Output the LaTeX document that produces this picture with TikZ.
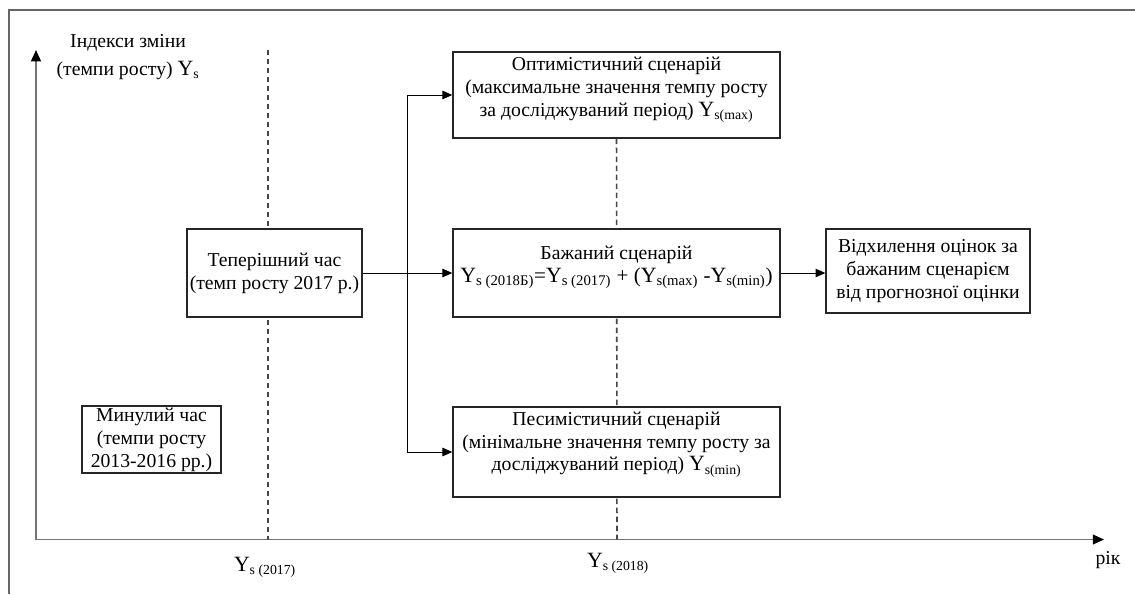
\documentclass[tikz,border=0pt]{standalone}
\usepackage{fontspec}
\setmainfont{Liberation Serif}
\usetikzlibrary{arrows.meta}

\newcommand{\Ys}[1]{{\fontsize{15.5}{16}\selectfont Y}\textsubscript{#1}}

\tikzset{
  box/.style={draw=black!85, line width=0.9pt, fill=white, align=center, inner sep=0pt,
              font=\fontsize{14}{16.3}\selectfont},
  txt/.style={align=center, inner sep=0pt, font=\fontsize{14}{16.3}\selectfont},
  arr/.style={-{Triangle[length=7pt,width=6pt]}, line width=0.7pt},
  axis/.style={{Triangle[length=8pt,width=7pt,color=black]}-{Triangle[length=8pt,width=7pt,color=black]},
               draw=black!55, line width=1.1pt},
  guide/.style={draw=black!72, line width=1.1pt, dash pattern=on 3.8pt off 2.6pt}
}

\begin{document}
\begin{tikzpicture}[x=0.025cm, y=-0.025cm]
            \useasboundingbox (0,0) rectangle (1135,594);
            \draw[black!60, line width=1pt] (9,594) -- (9,10) -- (1135,10);
            \coordinate (O) at (36,539.5);
            \coordinate (ytop) at (36,50);
            \coordinate (xend) at (1104,539.5);
            \coordinate (d1top) at (268,50);
            \coordinate (d1bot) at (268,539.5);
            \coordinate (d2bot) at (617,539.5);
            % axes and guides
            \draw[axis] (ytop) -- (O) -- (xend);
            \draw[guide] (d1top) -- (d1bot);
            \node[box, minimum width=232.6pt, minimum height=61.2pt] (opt) at (616.5,95)
                {Оптимістичний сценарій\\(максимальне значення темпу росту\\за досліджуваний період) \Ys{s(max)}\\[-9pt]\strut};
            \draw[guide] (opt.south) -- (d2bot);
            % boxes
            \node[box, minimum width=124.5pt, minimum height=62.6pt] (present) at (274.5,273)
                {Теперішний час\\(темп росту 2017 р.)};
            \node[box, minimum width=232.6pt, minimum height=62.6pt] (desired) at (616.5,273)
                {Бажаний сценарій\\{\fontsize{15}{16}\selectfont \Ys{s (2018Б)}=\Ys{s (2017)} + (\Ys{s(max)} -\Ys{s(min)})}\\[-9pt]\strut};
            \node[box, minimum width=145.1pt, minimum height=59.8pt] (dev) at (928,271)
                {Відхилення оцінок за\\бажаним сценарієм\\від прогнозної оцінки};
            \node[box, minimum width=98.9pt, minimum height=47.7pt] (past) at (151.5,439.5)
                {Минулий час\\(темпи росту\\2013-2016 рр.)};
            \node[box, minimum width=232.6pt, minimum height=64pt] (pess) at (616.5,452)
                {Песимістичний сценарій\\(мінімальне значення темпу росту за\\досліджуваний період) \Ys{s(min)}\\[-6pt]\strut};
            % connectors
            \path (present.east) -- (desired.west) coordinate[pos=0.5] (br);
            \draw[arr] (present) -- (desired);
            \draw[arr] (br) |- (opt.west);
            \draw[arr] (br) |- (pess.west);
            \draw[arr] (desired.east) -- (desired.east -| dev.west);
            % labels
            \node[txt] (ylab) at (128,57) {Індекси зміни\\[4pt](темпи росту) \Ys{s}};
            \node[txt] (t17) at (265,567) {\Ys{s (2017)}};
            \node[txt] (t18) at (618,563) {\Ys{s (2018)}};
            \node[txt] (rik) at (1108,560) {рік};
        \end{tikzpicture}
\end{document}
